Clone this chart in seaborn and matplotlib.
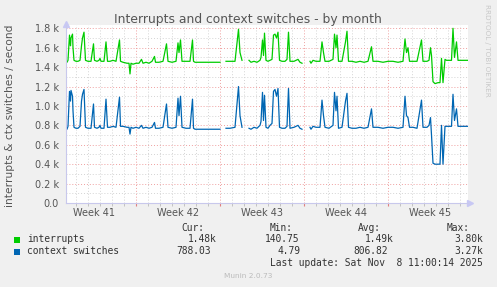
import numpy as np
import pandas as pd
import matplotlib
matplotlib.use("Agg")
import matplotlib.pyplot as plt
import seaborn as sns
from matplotlib.patches import Rectangle

nan = np.nan

# ---- data (hours since start of the 33-day window, values per second) ----
hours = [0, 2, 4, 7, 9, 10, 13, 14, 16, 20,
         24, 28, 31, 33, 36, 39, 44, 50, 55, 57,
         62, 66, 68, 70, 76, 80, 83, 88, 94, 100,
         107, 109, 114, 122, 126, 128, 130, 134, 140, 146,
         151, 154, 160, 166, 172, 177, 179, 186, 194, 201,
         204, 212, 220, 224, 226, 229, 232, 240, 248, 253,
         255, 258, 268, 278, 288, 298, 308, 314, 320, 328,
         338, 345, 348, 352, 358, 366, 370, 376, 382, 388,
         390, 393, 395, 397, 400, 404, 408, 412, 415, 418,
         421, 424, 427, 432, 438, 442, 445, 448, 456, 464,
         468, 472, 480, 488, 490, 494, 500, 508, 512, 515,
         518, 526, 534, 537, 540, 542, 545, 552, 559, 562,
         565, 572, 580, 588, 596, 604, 611, 614, 624, 634,
         644, 654, 664, 674, 678, 681, 684, 687, 694, 702,
         711, 714, 722, 726, 729, 731, 734, 738, 744, 748,
         751, 754, 758, 761, 766, 771, 774, 777, 781, 784,
         792, 804]

interrupts = [1460, 1450, 1470, 1730, 1620, 1700, 1740, 1600, 1470, 1460,
              1460, 1470, 1620, 1700, 1760, 1470, 1460, 1460, 1640, 1470,
              1460, 1470, 1490, 1460, 1460, 1660, 1460, 1460, 1470, 1460,
              1680, 1460, 1450, 1440, 1440, 1330, 1440, 1430, 1440, 1440,
              1480, 1440, 1450, 1440, 1460, 1510, 1450, 1450, 1460, 1640,
              1460, 1450, 1460, 1650, 1550, 1680, 1460, 1460, 1460, 1680,
              1460, 1450, 1450, 1450, 1450, 1450, 1450, nan, 1460, 1460,
              1460, 1790, 1550, 1470, nan, 1470, 1450, 1460, 1450, 1470,
              1500, 1680, 1520, 1750, 1470, 1460, 1470, 1480, 1730, 1740,
              1700, 1760, 1470, 1460, 1460, 1480, 1760, 1460, 1460, 1480,
              1450, 1440, nan, 1460, 1440, 1470, 1460, 1460, 1660, 1550,
              1460, 1460, 1480, 1740, 1600, 1730, 1460, 1460, 1660, 1770,
              1460, 1460, 1450, 1460, 1450, 1460, 1610, 1460, 1460, 1450,
              1460, 1460, 1450, 1460, 1690, 1550, 1600, 1460, 1460, 1460,
              1680, 1460, 1460, 1470, 1600, 1520, 1250, 1230, 1240, 1240,
              1490, 1240, 1480, 1470, 1470, 1470, 1800, 1500, 1660, 1470,
              1470, 1470]

context_switches = [770, 760, 790, 1150, 1050, 1160, 1100, 950, 780, 770,
                    770, 790, 1050, 1120, 1170, 780, 770, 770, 1020, 780,
                    770, 780, 800, 770, 770, 1070, 780, 780, 790, 780,
                    1090, 790, 790, 780, 780, 710, 780, 770, 780, 770,
                    800, 770, 780, 770, 780, 830, 770, 770, 780, 1020,
                    780, 770, 780, 1080, 900, 1100, 780, 770, 770, 1070,
                    770, 760, 760, 760, 760, 760, 760, nan, 770, 770,
                    780, 1200, 900, 780, nan, 770, 760, 780, 770, 800,
                    840, 1140, 850, 1110, 780, 770, 800, 820, 1150, 1170,
                    1100, 1180, 780, 770, 770, 790, 1180, 770, 780, 800,
                    770, 760, nan, 780, 760, 790, 780, 780, 1060, 900,
                    780, 770, 800, 1140, 950, 1100, 770, 780, 1050, 1130,
                    780, 770, 770, 780, 770, 780, 970, 780, 780, 770,
                    780, 780, 770, 780, 1100, 900, 880, 780, 780, 770,
                    1060, 780, 780, 800, 880, 700, 410, 400, 400, 400,
                    800, 400, 790, 790, 790, 790, 1120, 850, 970, 790,
                    790, 790]

series_names = ["interrupts", "context switches"]
series_colors = ["#00CC00", "#0066B3"]

week_labels = ["Week 41", "Week 42", "Week 43", "Week 44", "Week 45"]
week_label_hours = [56, 224, 392, 560, 728]
week_boundary_hours = [140, 308, 476, 644]

y_ticks = [0, 200, 400, 600, 800, 1000, 1200, 1400, 1600, 1800]
y_tick_labels = ["0.0", "0.2 k", "0.4 k", "0.6 k", "0.8 k", "1.0 k",
                 "1.2 k", "1.4 k", "1.6 k", "1.8 k"]

legend_cur = ["1.48k", "788.03"]
legend_min = ["140.75", "4.79"]
legend_avg = ["1.49k", "806.82"]
legend_max = ["3.80k", "3.27k"]

# ---- figure ----
W, H = 497, 287
fig = plt.figure(figsize=(W / 100, H / 100), dpi=100, facecolor="#F0F0F0")


def fx(x):
    return x / W


def fy(y):
    return 1 - y / H


PL, PR, PT, PB = 66, 468, 25, 203
ax = fig.add_axes([fx(PL), fy(PB), (PR - PL) / W, (PB - PT) / H])
ax.set_facecolor("white")

frames = []
h = np.array(hours, dtype=float)
for name, vals in zip(series_names, [interrupts, context_switches]):
    v = np.array(vals, dtype=float)
    seg = np.cumsum(np.isnan(v))
    frames.append(pd.DataFrame({
        "hours": h,
        "value": v,
        "series": name,
        "segment": [f"{name}-{s}" for s in seg],
    }))
data = pd.concat(frames, ignore_index=True).dropna()

sns.lineplot(data=data, x="hours", y="value", hue="series", units="segment",
             estimator=None, sort=False,
             palette=dict(zip(series_names, series_colors)),
             hue_order=series_names, legend=False, linewidth=0.9, ax=ax)

xmax = 804
ymax = 1800 * (PB - PT) / 174.7
ax.set_xlim(0, xmax)
ax.set_ylim(0, ymax)
ax.set_xlabel("")
ax.set_ylabel("")

day_ticks = [d for d in range(20, xmax, 24) if d not in week_boundary_hours]
ax.set_xticks(week_boundary_hours)
ax.set_xticks(day_ticks, minor=True)
ax.set_xticklabels([])
ax.set_yticks(y_ticks)
ax.set_yticks([t + 100 for t in y_ticks[:-1]], minor=True)
ax.set_yticklabels(y_tick_labels)

dot = (0, (1, 2))
ax.grid(which="major", color="#EFA0A0", linestyle=dot, linewidth=0.7)
ax.grid(which="minor", color="#D4D4D4", linestyle=dot, linewidth=0.7)
ax.set_axisbelow(True)

ax.tick_params(axis="y", which="both", length=0, pad=5, labelsize=7,
               labelcolor="#555555")
ax.tick_params(axis="x", which="major", length=2, color="#E08080")
ax.tick_params(axis="x", which="minor", length=2, color="#BBBBBB")

for s in ["top", "right"]:
    ax.spines[s].set_visible(False)
for s in ["left", "bottom"]:
    ax.spines[s].set_color("#C8C8EC")
    ax.spines[s].set_linewidth(0.8)
ax.plot([1.005], [0], marker=">", ms=4, color="#C8C8F4", transform=ax.transAxes,
        clip_on=False)
ax.plot([0], [1.005], marker="^", ms=4, color="#C8C8F4", transform=ax.transAxes,
        clip_on=False)

for lab, pos in zip(week_labels, week_label_hours):
    ax.text(pos, -(212.7 - PB) / (PB - PT), lab, transform=ax.get_xaxis_transform(),
            ha="center", va="center", fontsize=7, color="#555555")

# ---- texts ----
fig.text(fx(248), fy(19), "Interrupts and context switches - by month",
         ha="center", va="center", fontsize=8.9, color="#555555")
fig.text(fx(10), fy((PT + PB) / 2 + 2), "interrupts & ctx switches / second",
         rotation=90, ha="center", va="center", fontsize=7.7, color="#555555")
fig.text(fx(487), fy(4), "RRDTOOL / TOBI OETIKER", rotation=270,
         ha="center", va="top", fontsize=5.2, color="#C8C8C8")

mono = dict(family="DejaVu Sans Mono", fontsize=6.9, color="#333333", va="center")
fig.text(fx(204), fy(228), "Cur:", ha="right", **mono)
fig.text(fx(293), fy(228), "Min:", ha="right", **mono)
fig.text(fx(381), fy(228), "Avg:", ha="right", **mono)
fig.text(fx(470), fy(228), "Max:", ha="right", **mono)

row_y = [239.5, 251.5]
cur_end = [217, 211]
min_end = [299, 300]
avg_end = [394, 388]
max_end = [483, 483]
for i, name in enumerate(series_names):
    y = row_y[i]
    fig.patches.append(Rectangle((fx(14), fy(y + 3)), 6 / W, 6 / H,
                                 transform=fig.transFigure, facecolor=series_colors[i],
                                 edgecolor="none"))
    fig.text(fx(27), fy(y), name, ha="left", **mono)
    fig.text(fx(cur_end[i]), fy(y), legend_cur[i], ha="right", **mono)
    fig.text(fx(min_end[i]), fy(y), legend_min[i], ha="right", **mono)
    fig.text(fx(avg_end[i]), fy(y), legend_avg[i], ha="right", **mono)
    fig.text(fx(max_end[i]), fy(y), legend_max[i], ha="right", **mono)

fig.text(fx(483), fy(263.5), "Last update: Sat Nov  8 11:00:14 2025", ha="right", **mono)
fig.text(fx(248), fy(276), "Munin 2.0.73", ha="center", va="center",
         fontsize=5.3, color="#BBBBBB")

fig.savefig("out.png", dpi=100, facecolor=fig.get_facecolor())
